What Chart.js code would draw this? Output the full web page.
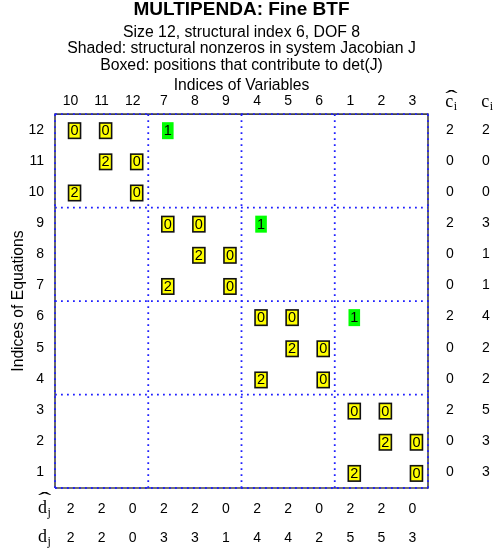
<!DOCTYPE html>
<html>
<head>
<meta charset="utf-8">
<title>MULTIPENDA: Fine BTF</title>
<script src="https://cdn.jsdelivr.net/npm/chart.js@4/dist/chart.umd.min.js"></script>
<style>
  html, body { margin: 0; padding: 0; background: #ffffff; }
  canvas { display: block; }
</style>
</head>
<body>
<canvas id="btf" width="494" height="552"></canvas>
<script>
// Column order of the variables after the fine block triangularisation
const varOrder = [10, 11, 12, 7, 8, 9, 4, 5, 6, 1, 2, 3];
// Sizes of the diagonal blocks (top-left to bottom-right)
const blockSizes = [3, 3, 3, 3];

// Boxed entries: equation, variable, displayed value
const boxedEq  = [12, 12, 11, 11, 10, 10, 9, 9, 8, 8, 7, 7, 6, 6, 5, 5, 4, 4, 3, 3, 2, 2, 1, 1];
const boxedVar = [10, 11, 11, 12, 10, 12, 7, 8, 8, 9, 7, 9, 4, 5, 5, 6, 4, 6, 1, 2, 2, 3, 1, 3];
const boxedVal = [0, 0, 2, 0, 2, 0, 0, 0, 2, 0, 2, 0, 0, 0, 2, 0, 2, 0, 0, 0, 2, 0, 2, 0];

// Shaded (non-boxed) structural nonzeros
const shadedEq  = [12, 9, 6];
const shadedVar = [7, 4, 1];
const shadedVal = [1, 1, 1];

// Equation offsets, listed for equations 1..12
const cHat = [0, 0, 2, 0, 0, 2, 0, 0, 2, 0, 0, 2];
const cOff = [3, 3, 5, 2, 2, 4, 1, 1, 3, 0, 0, 2];

// Variable offsets, listed in column order
const dHat = [2, 2, 0, 2, 2, 0, 2, 2, 0, 2, 2, 0];
const dOff = [2, 2, 0, 3, 3, 1, 4, 4, 2, 5, 5, 3];

const N = varOrder.length;
const colOf = v => varOrder.indexOf(v) + 1;
const SANS = '"Liberation Sans", Arial, Helvetica, sans-serif';
const SERIF = '"Liberation Serif", "Times New Roman", serif';

// block boundaries
const edges = [0.5];
blockSizes.forEach(s => edges.push(edges[edges.length - 1] + s));

const gridSets = [];
edges.forEach(e => {
  gridSets.push({ type: 'line', data: [{ x: e, y: 0.5 }, { x: e, y: N + 0.5 }] });
  gridSets.push({ type: 'line', data: [{ x: 0.5, y: N + 1 - e }, { x: N + 0.5, y: N + 1 - e }] });
});
gridSets.forEach(d => Object.assign(d, {
  borderColor: '#1f1fff', borderWidth: 1.8, borderDash: [1.8, 4.2],
  pointRadius: 0, fill: false, clip: 6, order: 1
}));

const frame = {
  type: 'line',
  data: [{ x: 0.5, y: 0.5 }, { x: N + 0.5, y: 0.5 }, { x: N + 0.5, y: N + 0.5 },
         { x: 0.5, y: N + 0.5 }, { x: 0.5, y: 0.5 }],
  borderColor: '#454545', borderWidth: 1.6, pointRadius: 0, fill: false, clip: 6, order: 2
};

const boxed = {
  type: 'scatter',
  data: boxedEq.map((e, i) => ({ x: colOf(boxedVar[i]), y: e, v: boxedVal[i] })),
  pointRadius: 0,
  cell: { fill: '#ffff00', stroke: '#111111', w: 12, h: 15.4 },
  order: 0
};
const shaded = {
  type: 'scatter',
  data: shadedEq.map((e, i) => ({ x: colOf(shadedVar[i]), y: e, v: shadedVal[i] })),
  pointRadius: 0,
  cell: { fill: '#00ff00', stroke: null, w: 11.6, h: 17 },
  order: 0
};

// yellow / green cells with their value
const cellPlugin = {
  id: 'cells',
  afterDatasetsDraw(chart) {
    const ctx = chart.ctx;
    chart.data.datasets.forEach((ds, i) => {
      if (!ds.cell) return;
      const meta = chart.getDatasetMeta(i);
      meta.data.forEach((pt, j) => {
        const cx = pt.x + 4, cy = pt.y + 1;
        const { w, h, fill, stroke } = ds.cell;
        ctx.save();
        ctx.fillStyle = fill;
        ctx.fillRect(cx - w / 2, cy - h / 2, w, h);
        if (stroke) {
          ctx.lineWidth = 1.6;
          ctx.strokeStyle = stroke;
          ctx.strokeRect(cx - w / 2, cy - h / 2, w, h);
        }
        ctx.fillStyle = '#000';
        ctx.font = '14.5px ' + SANS;
        ctx.textAlign = 'center';
        ctx.textBaseline = 'middle';
        ctx.fillText(String(ds.data[j].v), cx, cy + 0.5);
        ctx.restore();
      });
    });
  }
};

// serif headers for the offset rows / columns
function drawHatSym(ctx, letter, sub, x, base, hat) {
  ctx.font = '18px ' + SERIF;
  const lw = ctx.measureText(letter).width;
  ctx.fillText(letter, x, base);
  ctx.font = '12px ' + SERIF;
  const sw = ctx.measureText(sub).width;
  ctx.fillText(sub, x + lw + 0.5, base + 3);
  if (hat) {
    const total = lw + sw + 1;
    ctx.save();
    ctx.font = '18px ' + SERIF;
    const hw = ctx.measureText('\u02C6').width;
    const sx = total / hw;
    ctx.translate(x + total / 2, base - hat);
    ctx.scale(sx, 1.15);
    ctx.textAlign = 'center';
    ctx.fillText('\u02C6', 0, 0);
    ctx.restore();
  }
  return lw + sw + 0.5;
}

const headerPlugin = {
  id: 'headers',
  afterDraw(chart) {
    const ctx = chart.ctx;
    const area = chart.chartArea;
    const sc = chart.scales;
    ctx.save();
    ctx.fillStyle = '#000';
    ctx.textAlign = 'left';
    ctx.textBaseline = 'alphabetic';
    const headBase = area.top - 7.5;
    [['cHat', true], ['cOff', false]].forEach(([id, hat]) => {
      const s = sc[id];
      ctx.font = '14px ' + SANS;
      const cx = s.left + s.options.ticks.padding + ctx.measureText('0').width / 2;
      ctx.font = '18px ' + SERIF;
      const w = ctx.measureText('c').width;
      ctx.font = '12px ' + SERIF;
      const w2 = ctx.measureText('i').width;
      drawHatSym(ctx, 'c', 'i', cx - (w + w2) / 2 + 1, headBase, hat ? 2 : 0);
    });
    const leftX = sc.y.right - 17;
    [['dHatAx', true], ['dOffAx', false]].forEach(([id, hat]) => {
      const s = sc[id];
      const base = s.top + s.options.ticks.padding + 8.4 + 4;
      drawHatSym(ctx, 'd', 'j', leftX, base, hat ? 6 : 0);
    });
    ctx.restore();
  }
};

const tickFont = { family: SANS, size: 14 };
const colTicks = s => { s.ticks = varOrder.map((v, i) => ({ value: i + 1 })); };
const rowTicks = s => { s.ticks = varOrder.map((v, i) => ({ value: i + 1 })); };

new Chart(document.getElementById('btf'), {
  data: { datasets: [...gridSets, frame, boxed, shaded] },
  plugins: [cellPlugin, headerPlugin],
  options: {
    responsive: false,
    animation: false,
    events: [],
    layout: { padding: 0 },
    plugins: {
      legend: { display: false },
      tooltip: { enabled: false },
      title: {
        display: true,
        fullSize: false,
        text: 'MULTIPENDA: Fine BTF',
        color: '#000',
        font: { family: SANS, size: 19, weight: 'bold', lineHeight: '20px' },
        padding: { top: 0, bottom: 0 }
      },
      subtitle: {
        display: true,
        fullSize: false,
        text: ['Size 12, structural index 6, DOF 8',
               'Shaded: structural nonzeros in system Jacobian J',
               'Boxed: positions that contribute to det(J)'],
        color: '#000',
        font: { family: SANS, size: 15.8, lineHeight: '16.7px' },
        padding: { top: 4, bottom: 2 }
      }
    },
    scales: {
      x: {
        type: 'linear', axis: 'x', position: 'top', min: 0.5, max: N + 0.5,
        afterBuildTicks: colTicks,
        ticks: { callback: v => varOrder[v - 1], font: tickFont, color: '#000', padding: 4.6, maxRotation: 0, autoSkip: false },
        grid: { display: false, drawTicks: false },
        border: { display: false },
        title: { display: true, text: 'Indices of Variables', color: '#000', font: { family: SANS, size: 15.7 }, padding: 0 },
        afterFit: s => { s.height = 38; }
      },
      dHatAx: {
        type: 'linear', axis: 'x', position: 'bottom', min: 0.5, max: N + 0.5, weight: 0,
        afterBuildTicks: colTicks,
        ticks: { callback: v => dHat[v - 1], font: tickFont, color: '#000', padding: 12.6, maxRotation: 0, autoSkip: false },
        grid: { display: false, drawTicks: false },
        border: { display: false },
        afterFit: s => { s.height = 30; }
      },
      dOffAx: {
        type: 'linear', axis: 'x', position: 'bottom', min: 0.5, max: N + 0.5, weight: 1,
        afterBuildTicks: colTicks,
        ticks: { callback: v => dOff[v - 1], font: tickFont, color: '#000', padding: 11.6, maxRotation: 0, autoSkip: false },
        grid: { display: false, drawTicks: false },
        border: { display: false },
        afterFit: s => { s.height = 34; }
      },
      y: {
        type: 'linear', axis: 'y', position: 'left', min: 0.5, max: N + 0.5,
        afterBuildTicks: rowTicks,
        ticks: { callback: v => v, font: tickFont, color: '#000', padding: 11, autoSkip: false },
        grid: { display: false, drawTicks: false },
        border: { display: false },
        title: { display: true, text: 'Indices of Equations', color: '#000', font: { family: SANS, size: 15.7 }, padding: { top: 9.7, bottom: 0 } },
        afterFit: s => { s.width = 55; }
      },
      cHat: {
        type: 'linear', axis: 'y', position: 'right', min: 0.5, max: N + 0.5, weight: 0,
        afterBuildTicks: rowTicks,
        ticks: { callback: v => cHat[v - 1], font: tickFont, color: '#000', padding: 18, crossAlign: 'center', autoSkip: false },
        grid: { display: false, drawTicks: false },
        border: { display: false },
        afterFit: s => { s.width = 36; }
      },
      cOff: {
        type: 'linear', axis: 'y', position: 'right', min: 0.5, max: N + 0.5, weight: 1,
        afterBuildTicks: rowTicks,
        ticks: { callback: v => cOff[v - 1], font: tickFont, color: '#000', padding: 18, crossAlign: 'center', autoSkip: false },
        grid: { display: false, drawTicks: false },
        border: { display: false },
        afterFit: s => { s.width = 30; }
      }
    }
  }
});
</script>
</body>
</html>
